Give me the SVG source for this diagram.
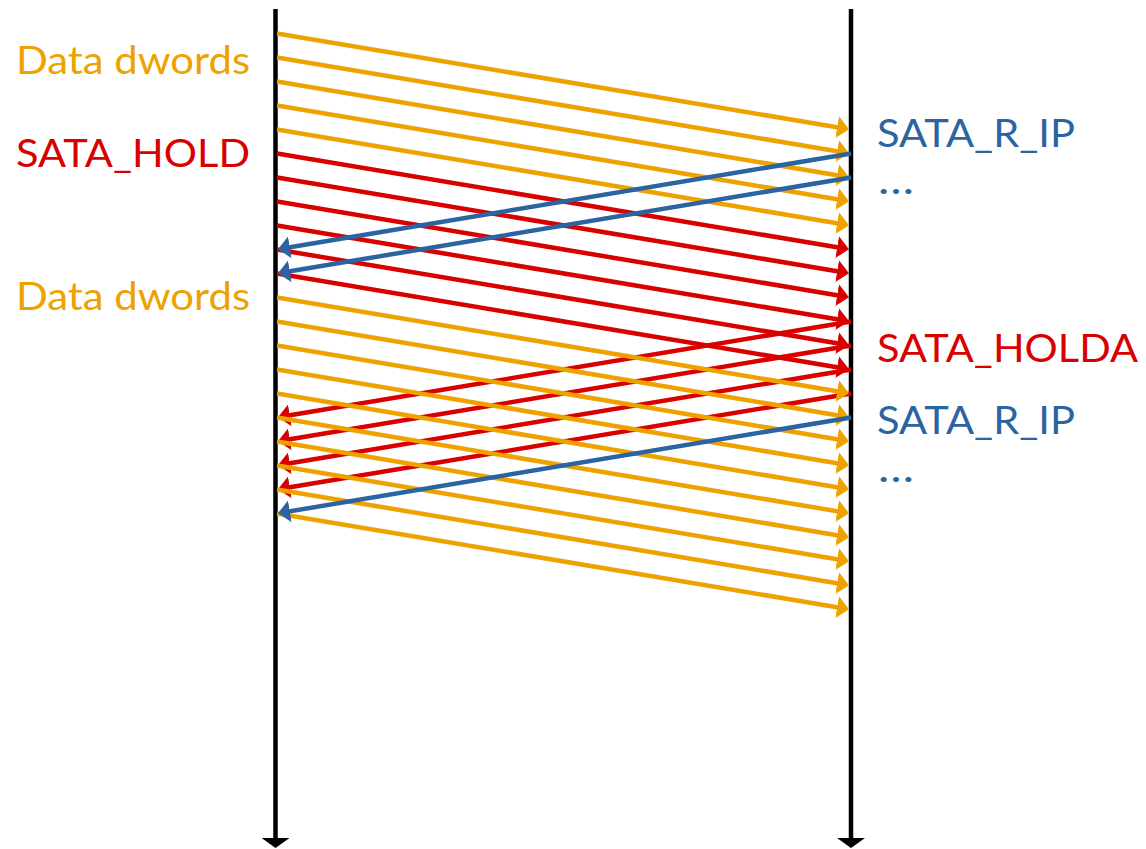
<svg xmlns="http://www.w3.org/2000/svg" width="1146" height="849" viewBox="0 0 1146 849">
<style>
.o{stroke:#EDA200;}
.r{stroke:#D90000;}
.b{stroke:#2B64A0;}
.ln{stroke-width:4.5;fill:none;}
.ro{marker-end:url(#ho);} .rr{marker-end:url(#hr);} .rb{marker-end:url(#hb);}
.tl{stroke:#000;stroke-width:4.5;fill:none;marker-end:url(#hk);}
text{font-family:Lato,"Open Sans","Liberation Sans",sans-serif;font-size:39px;}
.to{fill:#EDA200;} .tr{fill:#D90000;} .tb{fill:#2B64A0;}
</style>
<defs>
<marker id="ho" markerUnits="userSpaceOnUse" orient="auto" markerWidth="14" markerHeight="22" refX="6" refY="11" viewBox="0 0 14 22"><path d="M0,0 L12,11 L0,22 z" fill="#EDA200"/></marker>
<marker id="hr" markerUnits="userSpaceOnUse" orient="auto" markerWidth="14" markerHeight="22" refX="6" refY="11" viewBox="0 0 14 22"><path d="M0,0 L12,11 L0,22 z" fill="#D90000"/></marker>
<marker id="hb" markerUnits="userSpaceOnUse" orient="auto" markerWidth="14" markerHeight="22" refX="6" refY="11" viewBox="0 0 14 22"><path d="M0,0 L12,11 L0,22 z" fill="#2B64A0"/></marker>
<marker id="hk" markerUnits="userSpaceOnUse" orient="auto" markerWidth="12" markerHeight="28" refX="4" refY="14" viewBox="0 0 12 28"><path d="M0,0 L10,14 L0,28 z" fill="#000"/></marker>
</defs>
<g id="timelines">
<line class="tl" x1="275.5" y1="9" x2="275.5" y2="842"/>
<line class="tl" x1="851" y1="9" x2="851" y2="842"/>
</g>
<g id="connectors" class="ln">
<g class="o ro">
<line x1="277" y1="33.5" x2="843.1" y2="128.2"/>
<line x1="277" y1="57.5" x2="843.1" y2="152.2"/>
<line x1="277" y1="81.5" x2="843.1" y2="176.2"/>
<line x1="277" y1="105.5" x2="843.1" y2="200.2"/>
<line x1="277" y1="129.5" x2="843.1" y2="224.2"/>
</g>
<g class="r rr">
<line x1="277" y1="153.5" x2="843.1" y2="248.2"/>
<line x1="277" y1="177.5" x2="843.1" y2="272.2"/>
<line x1="277" y1="201.5" x2="843.1" y2="296.2"/>
<line x1="277" y1="225.5" x2="843.1" y2="320.2"/>
<line x1="277" y1="249.5" x2="843.1" y2="344.2"/>
<line x1="277" y1="273.5" x2="843.1" y2="368.2"/>
</g>
<g class="b rb">
<line x1="851" y1="153.5" x2="283.9" y2="248.3"/>
<line x1="851" y1="177.5" x2="283.9" y2="272.3"/>
</g>
<g class="r rr">
<line x1="851" y1="321.5" x2="283.9" y2="416.3"/>
<line x1="851" y1="345.5" x2="283.9" y2="440.3"/>
<line x1="851" y1="369.5" x2="283.9" y2="464.3"/>
<line x1="851" y1="393.5" x2="283.9" y2="488.3"/>
</g>
<g class="o ro">
<line x1="277" y1="297.5" x2="843.1" y2="392.2"/>
<line x1="277" y1="321.5" x2="843.1" y2="416.2"/>
<line x1="277" y1="345.5" x2="843.1" y2="440.2"/>
<line x1="277" y1="369.5" x2="843.1" y2="464.2"/>
<line x1="277" y1="393.5" x2="843.1" y2="488.2"/>
<line x1="277" y1="417.5" x2="843.1" y2="512.2"/>
<line x1="277" y1="441.5" x2="843.1" y2="536.2"/>
<line x1="277" y1="465.5" x2="843.1" y2="560.2"/>
<line x1="277" y1="489.5" x2="843.1" y2="584.2"/>
<line x1="277" y1="513.5" x2="843.1" y2="608.2"/>
</g>
<g class="b rb">
<line x1="851" y1="417.5" x2="283.9" y2="512.3"/>
</g>
</g>
<g id="label-data-1"><text class="to" x="16" y="73.5" textLength="234" lengthAdjust="spacingAndGlyphs">Data dwords</text></g>
<g id="label-hold"><text class="tr" x="16" y="167" textLength="234" lengthAdjust="spacingAndGlyphs">SATA_HOLD</text></g>
<g id="label-data-2"><text class="to" x="16" y="309.5" textLength="234" lengthAdjust="spacingAndGlyphs">Data dwords</text></g>
<g id="label-rip-1"><text class="tb" x="877" y="146.5" textLength="198" lengthAdjust="spacingAndGlyphs">SATA_R_IP</text></g>
<g id="label-dots-1"><text class="tb" x="878" y="194" textLength="36" lengthAdjust="spacingAndGlyphs">…</text></g>
<g id="label-holda"><text class="tr" x="877" y="362" textLength="261" lengthAdjust="spacingAndGlyphs">SATA_HOLDA</text></g>
<g id="label-rip-2"><text class="tb" x="877" y="433.5" textLength="198" lengthAdjust="spacingAndGlyphs">SATA_R_IP</text></g>
<g id="label-dots-2"><text class="tb" x="878" y="481.5" textLength="36" lengthAdjust="spacingAndGlyphs">…</text></g>
</svg>
